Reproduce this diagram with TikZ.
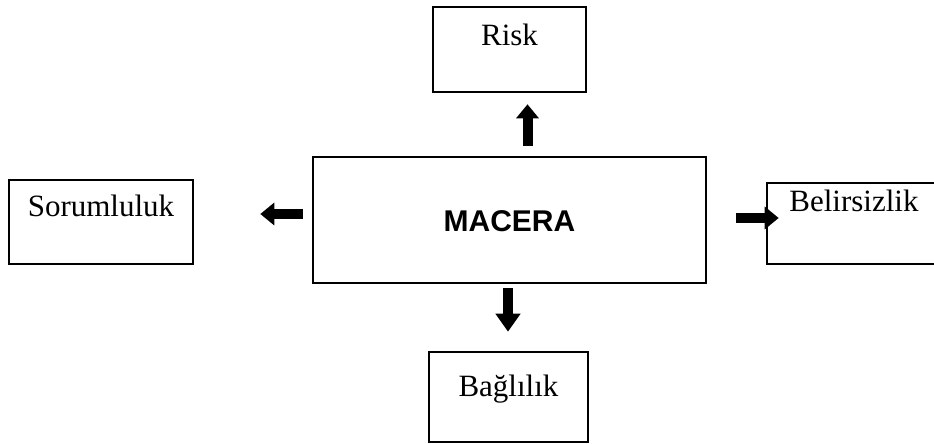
\documentclass[tikz,border=0pt]{standalone}
\usepackage{fontspec}
\setmainfont{Liberation Serif}
\newfontfamily\arialfont{Liberation Sans}
\usetikzlibrary{arrows.meta}

\tikzset{
  box/.style={draw, line width=1.3pt, inner sep=0pt, anchor=base, font=\fontsize{15.5}{18}\selectfont},
  blockarrow/.style={line width=5pt, -{Triangle[length=7pt, width=11pt]}}
}

\begin{document}
\begin{tikzpicture}[x=0.5pt, y=-0.5pt]
  \clip (0,0) rectangle (934,444);
  % Centre box
  \node[box, minimum width=196.5pt, text height=37.5pt, text depth=25.5pt,
    font=\arialfont\bfseries\fontsize{15}{18}\selectfont] (macera) at (509.5,232) {MACERA};
  % Outer boxes
  \node[box, minimum width=76.5pt, text height=19.5pt, text depth=23pt] (risk) at (509.5,46) {Risk};
  \node[box, minimum width=92pt, text height=18.5pt, text depth=23.5pt] (sorumluluk) at (101,217) {Sorumluluk};
  \node[box, minimum width=87pt, text height=14.5pt, text depth=26pt] (belirsizlik) at (854,212) {Belirsizlik};
  \node[box, minimum width=79.5pt, text height=22.5pt, text depth=22.5pt] (baglilik) at (508.5,397) {Bağlılık};
  % Arrows
  \draw[blockarrow, shorten <=5pt, shorten >=5.5pt] ([xshift=9pt]macera.north) -- ([xshift=9pt]risk.south);
  \draw[blockarrow, shorten <=4.5pt, shorten >=33pt] ([yshift=3pt]macera.west) -- ([yshift=3pt]macera.west -| sorumluluk.east);
  \draw[blockarrow, shorten <=14.5pt, shorten >=-6.5pt] ([yshift=1pt]macera.east) -- ([yshift=1pt]macera.east -| belirsizlik.west);
  \draw[blockarrow, -{Triangle[length=9pt, width=12pt]}, shorten <=2pt, shorten >=9.5pt] ([xshift=-0.75pt]macera.south) -- ([xshift=-0.75pt]baglilik.north -| macera.south);
\end{tikzpicture}
\end{document}
